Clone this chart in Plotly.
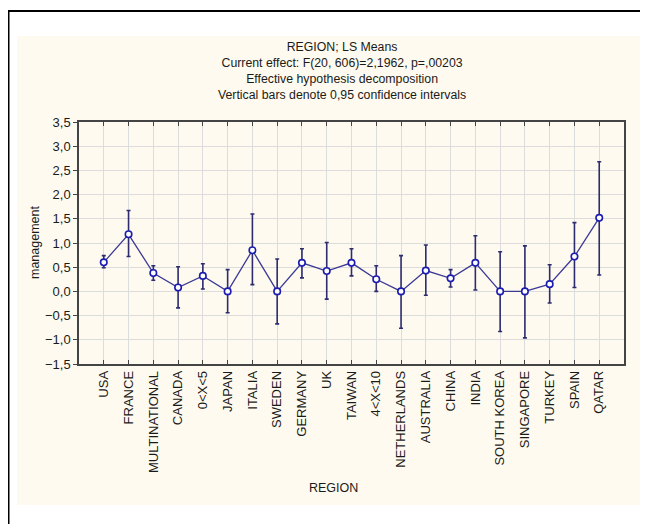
import plotly.graph_objects as go

regions = ["USA", "FRANCE", "MULTINATIONAL", "CANADA", "0<X<5", "JAPAN", "ITALIA",
           "SWEDEN", "GERMANY", "UK", "TAIWAN", "4<X<10", "NETHERLANDS", "AUSTRALIA",
           "CHINA", "INDIA", "SOUTH KOREA", "SINGAPORE", "TURKEY", "SPAIN", "QATAR"]
means = [0.60, 1.18, 0.38, 0.08, 0.32, 0.00, 0.85, 0.00, 0.59, 0.42, 0.59, 0.25,
         0.00, 0.43, 0.27, 0.59, 0.00, 0.00, 0.15, 0.72, 1.52]
upper = [0.74, 1.67, 0.53, 0.51, 0.57, 0.45, 1.60, 0.67, 0.88, 1.01, 0.88, 0.53,
         0.74, 0.96, 0.45, 1.15, 0.82, 0.94, 0.55, 1.42, 2.68]
lower = [0.49, 0.72, 0.23, -0.34, 0.05, -0.44, 0.14, -0.67, 0.28, -0.16, 0.32, 0.00,
         -0.76, -0.08, 0.09, 0.03, -0.83, -0.96, -0.24, 0.08, 0.34]
y_ticks = [-1.5, -1.0, -0.5, 0.0, 0.5, 1.0, 1.5, 2.0, 2.5, 3.0, 3.5]
title_lines = ["REGION; LS Means",
               "Current effect: F(20, 606)=2,1962, p=,00203",
               "Effective hypothesis decomposition",
               "Vertical bars denote 0,95 confidence intervals"]

FONT = "Arial, Liberation Sans, sans-serif"
# The page body has an 8px default margin; the figure is sized/offset to compensate.
OFF = 8
W, H = 632, 516
PL, PR, PT, PB = 79, 624, 122, 364          # plot area in page pixels
L, R, T, B = PL - OFF, W + OFF - PR, PT - OFF, H + OFF - PB
pw, ph = PR - PL, PB - PT

def px(x):
    return (x - PL) / pw

def py(y):
    return (PB - y) / ph

err_plus = [u - m for u, m in zip(upper, means)]
err_minus = [m - l for m, l in zip(means, lower)]

fig = go.Figure()
fig.add_trace(go.Scatter(
    x=regions, y=means, mode="lines+markers",
    line=dict(color="#3a3a96", width=1.3),
    marker=dict(symbol="circle", size=6.5, color="white",
                line=dict(color="#1c1cb0", width=1.6)),
    error_y=dict(type="data", symmetric=False, array=err_plus, arrayminus=err_minus,
                 color="#2c2c6e", thickness=1.6, width=2),
    showlegend=False,
))

shapes = [
    dict(type="rect", xref="paper", yref="paper", x0=px(17), x1=px(642), y0=py(505), y1=py(36),
         fillcolor="#fffaef", line=dict(width=0), layer="below"),
    dict(type="line", xref="paper", yref="paper", x0=px(7), x1=px(660), y0=py(11), y1=py(11),
         line=dict(color="black", width=2.2)),
    dict(type="line", xref="paper", yref="paper", x0=px(8), x1=px(8), y0=py(10), y1=py(545),
         line=dict(color="black", width=3)),
]

annotations = [
    dict(text="<br>".join(title_lines), xref="paper", yref="paper", x=px(342), y=py(71),
         xanchor="center", yanchor="middle", align="center", showarrow=False,
         font=dict(family=FONT, size=12.3, color="#1a1a1a")),
    dict(text="management", xref="paper", yref="paper", x=px(35), y=py(243),
         textangle=-90, xanchor="center", yanchor="middle", showarrow=False,
         font=dict(family=FONT, size=12.5, color="#1a1a1a")),
    dict(text="REGION", xref="paper", yref="paper", x=px(333), y=py(488),
         xanchor="center", yanchor="middle", showarrow=False,
         font=dict(family=FONT, size=12.5, color="#1a1a1a")),
]

fig.update_layout(
    width=W, height=H,
    margin=dict(l=L, r=R, t=T, b=B, pad=0),
    paper_bgcolor="white", plot_bgcolor="white",
    separators=",.",
    shapes=shapes, annotations=annotations,
    font=dict(family=FONT, size=13, color="#1a1a1a"),
)
fig.update_xaxes(
    type="category", range=[-1, 21], tickangle=-90,
    showgrid=True, gridcolor="#dcdcdc", gridwidth=1,
    showline=True, linecolor="#444444", linewidth=1.5, mirror="ticks",
    ticks="inside", ticklen=4, tickcolor="#444444", tickwidth=1,
    tickfont=dict(family=FONT, size=13, color="#1a1a1a"),
    ticklabelstandoff=0,
)
fig.update_yaxes(
    range=[-1.5, 3.5], tickvals=y_ticks, tickformat=".1f",
    showgrid=True, gridcolor="#dcdcdc", gridwidth=1, zeroline=False,
    showline=True, linecolor="#444444", linewidth=1.5, mirror=True,
    ticks="outside", ticklen=4, tickcolor="#444444", tickwidth=1,
    tickfont=dict(family=FONT, size=13, color="#1a1a1a"),
)

fig.write_html("out.html")
